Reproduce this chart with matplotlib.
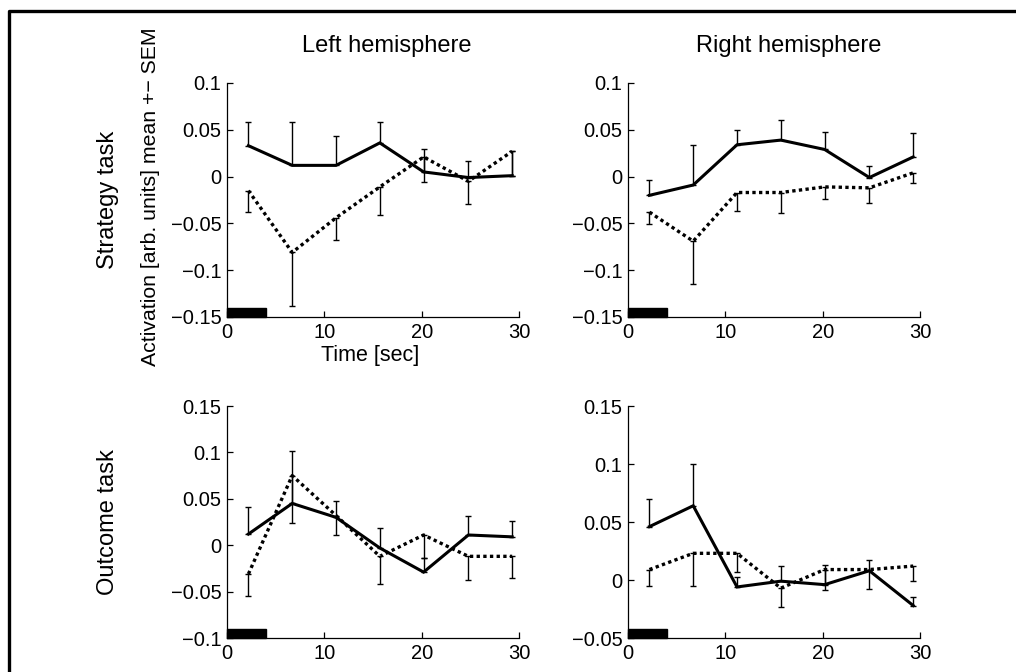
import matplotlib
matplotlib.use('Agg')
import matplotlib.pyplot as plt
import matplotlib.transforms as mtransforms
from matplotlib.patches import Rectangle
from matplotlib.lines import Line2D

plt.rcParams['font.family'] = ['Liberation Sans', 'DejaVu Sans']

# time points of the scans (sec)
times = [2.2, 6.7, 11.2, 15.7, 20.2, 24.8, 29.3]

# strategy task, left hemisphere
strat_left_solid = [0.033, 0.012, 0.012, 0.036, 0.005, -0.001, 0.001]
strat_left_solid_err = [0.025, 0.046, 0.031, 0.022, 0.025, 0.018, 0.026]
strat_left_dot = [-0.015, -0.081, -0.044, -0.011, 0.021, -0.005, 0.027]
strat_left_dot_err = [0.023, 0.057, 0.024, 0.030, 0.027, 0.024, 0.026]

# strategy task, right hemisphere
strat_right_solid = [-0.020, -0.009, 0.034, 0.039, 0.029, -0.001, 0.021]
strat_right_solid_err = [0.016, 0.043, 0.016, 0.021, 0.019, 0.012, 0.026]
strat_right_dot = [-0.038, -0.069, -0.017, -0.017, -0.011, -0.012, 0.004]
strat_right_dot_err = [0.013, 0.046, 0.020, 0.022, 0.013, 0.016, 0.011]

# outcome task, left hemisphere
out_left_solid = [0.012, 0.045, 0.030, -0.003, -0.029, 0.011, 0.009]
out_left_solid_err = [0.029, 0.057, 0.018, 0.021, 0.015, 0.021, 0.017]
out_left_dot = [-0.031, 0.075, 0.032, -0.012, 0.011, -0.012, -0.012]
out_left_dot_err = [0.024, 0.051, 0.021, 0.030, 0.025, 0.026, 0.023]

# outcome task, right hemisphere
out_right_solid = [0.046, 0.064, -0.006, -0.001, -0.004, 0.008, -0.022]
out_right_solid_err = [0.024, 0.036, 0.009, 0.013, 0.017, 0.009, 0.007]
out_right_dot = [0.009, 0.023, 0.023, -0.007, 0.009, 0.009, 0.012]
out_right_dot_err = [0.014, 0.028, 0.016, 0.016, 0.018, 0.017, 0.013]

stim_end = 4  # stimulus bar, 0 to 4 sec

panels = [
    # (rect, ylim, yticks, yticklabels, solid, solid_err, dot, dot_err)
    ([227/1016, 1 - 317/672, 292/1016, 234/672], (-0.15, 0.1),
     [-0.15, -0.1, -0.05, 0, 0.05, 0.1], ['\u22120.15', '\u22120.1', '\u22120.05', '0', '0.05', '0.1'],
     strat_left_solid, strat_left_solid_err, strat_left_dot, strat_left_dot_err),
    ([628/1016, 1 - 317/672, 292/1016, 234/672], (-0.15, 0.1),
     [-0.15, -0.1, -0.05, 0, 0.05, 0.1], ['\u22120.15', '\u22120.1', '\u22120.05', '0', '0.05', '0.1'],
     strat_right_solid, strat_right_solid_err, strat_right_dot, strat_right_dot_err),
    ([227/1016, 1 - 638/672, 292/1016, 232/672], (-0.1, 0.15),
     [-0.1, -0.05, 0, 0.05, 0.1, 0.15], ['\u22120.1', '\u22120.05', '0', '0.05', '0.1', '0.15'],
     out_left_solid, out_left_solid_err, out_left_dot, out_left_dot_err),
    ([628/1016, 1 - 638/672, 292/1016, 232/672], (-0.05, 0.15),
     [-0.05, 0, 0.05, 0.1, 0.15], ['\u22120.05', '0', '0.05', '0.1', '0.15'],
     out_right_solid, out_right_solid_err, out_right_dot, out_right_dot_err),
]

fig = plt.figure(figsize=(10.16, 6.72), dpi=100)

for rect, ylim, yticks, ylabels, solid, solid_err, dot, dot_err in panels:
    ax = fig.add_axes(rect)
    zeros = [0] * len(times)
    # solid line: upper error bars, dotted line: lower error bars
    ax.errorbar(times, solid, yerr=[zeros, solid_err], fmt='none', ecolor='k',
                elinewidth=1, capsize=2.5, capthick=1)
    ax.errorbar(times, dot, yerr=[dot_err, zeros], fmt='none', ecolor='k',
                elinewidth=1, capsize=2.5, capthick=1)
    ax.plot(times, solid, color='k', lw=2.2, solid_joinstyle='miter')
    ax.plot(times, dot, color='k', lw=2.4, linestyle=(0, (1, 1)))

    trans = mtransforms.blended_transform_factory(ax.transData, ax.transAxes)
    ax.add_patch(Rectangle((0, 0), stim_end, 0.04, transform=trans,
                           color='k', clip_on=False, zorder=5))

    ax.set_xlim(0, 30)
    ax.set_ylim(*ylim)
    ax.set_xticks([0, 10, 20, 30])
    ax.set_yticks(yticks)
    ax.set_yticklabels(ylabels)
    for s in ['top', 'right']:
        ax.spines[s].set_visible(False)
    for s in ['left', 'bottom']:
        ax.spines[s].set_linewidth(0.9)
    ax.tick_params(direction='in', length=4, width=0.9, labelsize=14.5, pad=4)

fig.text(387/1016, 1 - 46/672, 'Left hemisphere', ha='center', va='center', fontsize=17)
fig.text(789/1016, 1 - 46/672, 'Right hemisphere', ha='center', va='center', fontsize=17)
fig.text(108/1016, 1 - 200/672, 'Strategy task', rotation=90, ha='center', va='center', fontsize=17)
fig.text(108/1016, 1 - 522/672, 'Outcome task', rotation=90, ha='center', va='center', fontsize=17)
fig.text(150/1016, 1 - 197/672, 'Activation [arb. units] mean +\u2212 SEM', rotation=90,
         ha='center', va='center', fontsize=15.3)
fig.text(370/1016, 1 - 355/672, 'Time [sec]', ha='center', va='center', fontsize=15.5)

# border of the figure (cut at right and bottom)
fig.add_artist(Line2D([8.5/1016, 8.5/1016, 1.0], [0.0, 1 - 10.5/672, 1 - 10.5/672],
                      transform=fig.transFigure, color='k', lw=2.4))

fig.savefig('out.png', dpi=100)
